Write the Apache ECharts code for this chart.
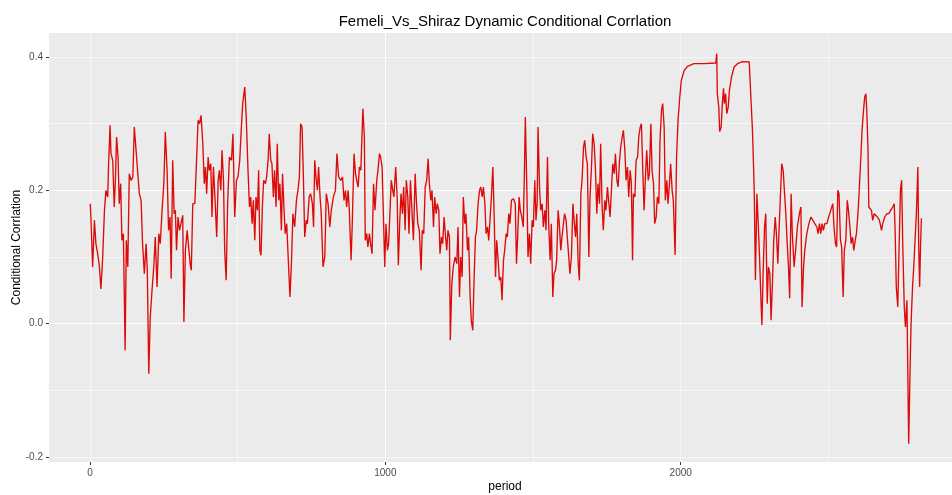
<!DOCTYPE html>
<html>
<head>
<meta charset="utf-8">
<script src="https://cdn.jsdelivr.net/npm/echarts@6/dist/echarts.min.js"></script>
<style>
html,body{margin:0;padding:0;background:#fff;}
#chart{width:952px;height:495px;}
</style>
</head>
<body>
<div id="chart"></div>
<script>
// ---- data ----
const titleText = 'Femeli_Vs_Shiraz Dynamic Conditional Corrlation';
const xName = 'period';
const yName = 'Conditional Corrlation';
const xTicks = [0, 1000, 2000];
const yTicks = [-0.2, 0.0, 0.2, 0.4];

const periodA = [1,3,9,15,20,26,32,37,43,49,54,60,63,68,71,77,82,86,90,95,99,104,108,113,119,123,128,133,139,145,150,156,161,167,173,178,184,190,194,199,204,210,216,221,227,233,238,244,250,255,261,266,271,275,280,285,289,293,298,303,308,314,318,323,329,334,339,343,348,355,361,366,371,376,382,387,391,395,400,404,409,413,418,423,429,434,438,443,447,452,456,461,466,472,479];
const corrA = [0.18,0.16,0.085,0.155,0.12,0.105,0.085,0.052,0.10,0.17,0.20,0.19,0.24,0.2975,0.255,0.245,0.175,0.215,0.28,0.25,0.18,0.21,0.125,0.135,-0.04,0.125,0.085,0.225,0.215,0.22,0.295,0.26,0.26,0.195,0.185,0.12,0.075,0.12,0.08,-0.075,0.01,0.05,0.085,0.13,0.055,0.135,0.12,0.17,0.21,0.2875,0.23,0.14,0.16,0.0675,0.245,0.165,0.17,0.11,0.16,0.14,0.15,0.1625,0.0025,0.11,0.14,0.14,0.09,0.08,0.18,0.18,0.18,0.305,0.30,0.3125,0.27,0.21,0.235,0.195,0.25,0.23,0.24,0.16,0.235,0.19,0.13,0.215,0.23,0.20,0.26,0.215,0.11,0.065,0.18,0.25,0.245];

const periodB = [484,490,496,501,507,512,517,524,529,535,540,544,549,553,558,562,567,571,575,579,584,588,594,598,603,607,612,616,621,625,630,634,639,643,648,652,657,661,666,672,677,682,687,693,699,704,709,713,718,722,727,732,736,742,747,753,757,761,765,770,774,779,783,789,795,800,806,812,817,824,831,836,842,849,855,860,865,869,874,878,884,888,894,899,903,908,912,917,921,924,929,932,937,941,946,950,955,960];
const corrB = [0.285,0.16,0.215,0.22,0.245,0.29,0.33,0.355,0.31,0.23,0.175,0.19,0.15,0.185,0.125,0.19,0.17,0.23,0.11,0.1025,0.18,0.215,0.21,0.22,0.245,0.285,0.245,0.24,0.19,0.23,0.175,0.27,0.185,0.21,0.14,0.225,0.17,0.135,0.15,0.15,0.04,0.09,0.165,0.145,0.185,0.20,0.22,0.30,0.295,0.23,0.13,0.155,0.15,0.19,0.195,0.18,0.145,0.245,0.22,0.20,0.235,0.19,0.165,0.085,0.10,0.195,0.18,0.145,0.17,0.19,0.20,0.255,0.22,0.215,0.22,0.185,0.20,0.175,0.20,0.17,0.095,0.15,0.255,0.225,0.215,0.205,0.235,0.23,0.23,0.3225,0.28,0.125,0.135,0.115,0.135,0.12,0.105,0.21];

const periodC = [962,965,971,975,980,984,989,993,998,1002,1007,1011,1016,1020,1025,1029,1035,1040,1044,1049,1053,1058,1062,1067,1071,1076,1080,1085,1089,1095,1101,1105,1110,1115,1121,1125,1130,1135,1140,1145,1149,1154,1158,1163,1167,1172,1176,1181,1185,1190,1194,1199,1203,1208,1212,1217,1220,1225,1230,1236,1242,1246,1251,1255,1260,1264,1269,1273,1278,1282,1287,1291,1296,1300,1305,1309,1314,1319,1323,1328,1332,1337,1341,1346,1350,1355,1359,1364,1368,1373,1377,1382,1386,1391,1395,1400,1404,1409,1413,1418,1422,1427,1434,1440];
const corrC = [0.21,0.17,0.215,0.23,0.255,0.25,0.235,0.17,0.085,0.15,0.11,0.12,0.17,0.215,0.20,0.19,0.235,0.19,0.0875,0.155,0.195,0.165,0.205,0.14,0.215,0.19,0.135,0.215,0.18,0.125,0.225,0.185,0.15,0.14,0.08,0.14,0.135,0.205,0.215,0.2475,0.21,0.185,0.20,0.145,0.19,0.165,0.18,0.17,0.105,0.13,0.12,0.16,0.135,0.11,0.14,0.13,-0.025,0.06,0.085,0.10,0.09,0.145,0.04,0.10,0.07,0.19,0.15,0.165,0.11,0.13,0.04,0.005,-0.01,0.06,0.13,0.14,0.18,0.20,0.205,0.19,0.205,0.18,0.135,0.145,0.125,0.16,0.19,0.235,0.17,0.07,0.125,0.095,0.065,0.07,0.035,0.095,0.11,0.135,0.13,0.165,0.15,0.185,0.1875,0.18];

const periodD = [1444,1448,1453,1457,1462,1467,1471,1474,1479,1483,1488,1492,1497,1501,1506,1510,1514,1517,1522,1526,1531,1535,1540,1544,1549,1553,1558,1562,1567,1571,1576,1580,1585,1589,1594,1598,1603,1607,1612,1616,1621,1625,1630,1635,1639,1644,1648,1653,1657,1662,1666,1671,1675,1680,1684,1689,1693,1698,1702,1707,1711,1716,1720,1725,1729,1734,1738,1743,1747,1752,1757,1761,1766,1770,1775,1779,1784,1788,1793,1797,1802,1806,1811,1815,1820,1824,1829,1833,1837,1840,1845,1849,1854,1858,1863,1867,1872,1876,1881,1885,1890,1894,1899,1903,1908,1912,1917,1921];
const corrD = [0.09,0.13,0.19,0.17,0.16,0.145,0.23,0.31,0.205,0.10,0.135,0.09,0.155,0.145,0.215,0.155,0.18,0.295,0.205,0.17,0.18,0.145,0.17,0.14,0.25,0.15,0.095,0.15,0.04,0.075,0.08,0.095,0.17,0.15,0.11,0.13,0.15,0.165,0.155,0.13,0.10,0.075,0.10,0.18,0.155,0.13,0.165,0.09,0.065,0.195,0.215,0.265,0.275,0.25,0.24,0.10,0.19,0.235,0.285,0.27,0.235,0.165,0.21,0.18,0.27,0.175,0.14,0.185,0.17,0.205,0.18,0.16,0.205,0.24,0.225,0.255,0.215,0.205,0.245,0.265,0.28,0.29,0.26,0.215,0.235,0.19,0.23,0.21,0.095,0.195,0.19,0.245,0.25,0.28,0.295,0.30,0.225,0.17,0.225,0.26,0.215,0.225,0.30,0.23,0.21,0.15,0.16,0.19];

const periodE = [1926,1930,1935,1939,1944,1948,1953,1957,1962,1966,1971,1975,1981,1986,1991,1997,2002,2012,2023,2045,2079,2119,2122,2124,2129,2132,2137,2141,2145,2148,2152,2156,2161,2165,2172,2181,2192,2209,2232,2237,2243,2249,2253,2258,2262,2267,2271,2275,2279,2284,2288,2293,2297,2302,2306,2311,2315,2320,2324,2329,2333,2338,2342,2347,2351,2356,2360,2365,2369,2374,2378,2384,2390,2395,2402];
const corrE = [0.18,0.275,0.32,0.33,0.295,0.185,0.215,0.18,0.21,0.24,0.20,0.185,0.103,0.25,0.305,0.34,0.365,0.38,0.386,0.39,0.39,0.391,0.405,0.345,0.325,0.288,0.295,0.33,0.353,0.33,0.345,0.315,0.325,0.35,0.37,0.385,0.39,0.393,0.3925,0.39,0.29,0.20,0.0655,0.195,0.155,0.10,0.045,-0.002,0.075,0.145,0.165,0.03,0.085,0.075,0.005,0.065,0.125,0.16,0.135,0.09,0.14,0.14,0.24,0.23,0.20,0.165,0.125,0.085,0.038,0.195,0.135,0.085,0.115,0.145,0.165];

const periodF = [2407,2411,2416,2420,2427,2434,2441,2447,2454,2461,2465,2470,2474,2479,2483,2488,2495,2501,2508,2515,2519,2524,2528,2532,2536,2541,2545,2550,2554,2559,2564,2568,2573,2577,2582,2586,2591,2595,2601,2605,2610,2614,2619,2623,2627,2630,2634,2637,2641,2646,2650,2655,2660,2666,2673,2680,2684,2691,2698,2705,2711,2718,2723,2726,2730,2735,2740,2744,2748,2752,2757,2761,2766,2769,2772,2777,2780,2785,2789,2794,2798,2803,2806,2809,2812,2815];
const corrF = [0.175,0.025,0.085,0.11,0.135,0.15,0.16,0.16,0.15,0.145,0.135,0.15,0.135,0.15,0.14,0.15,0.15,0.16,0.17,0.18,0.145,0.12,0.115,0.20,0.195,0.125,0.115,0.04,0.11,0.125,0.185,0.17,0.145,0.12,0.13,0.11,0.125,0.135,0.17,0.205,0.25,0.29,0.32,0.34,0.345,0.32,0.265,0.175,0.173,0.17,0.155,0.165,0.163,0.16,0.155,0.14,0.15,0.16,0.165,0.165,0.17,0.175,0.18,0.14,0.055,0.025,0.125,0.20,0.215,0.115,0.025,-0.005,0.035,-0.075,-0.18,-0.06,0.0,0.055,0.085,0.13,0.165,0.235,0.115,0.055,0.115,0.158];

// ---- build ----
const periods = [].concat(periodA, periodB, periodC, periodD, periodE, periodF);
const corr = [].concat(corrA, corrB, corrC, corrD, corrE, corrF);
const n = Math.min(periods.length, corr.length);
const seriesData = [];
for (let i = 0; i < n; i++) seriesData.push([periods[i], corr[i]]);

// ggplot-style expanded ranges (panel is cut at the right edge of the picture)
const xMin = -138.8, xMax = 2918.6;
const yMin = -0.2075, yMax = 0.436;

const FONT = '"Liberation Sans", Arial, sans-serif';
const chart = echarts.init(document.getElementById('chart'), null, {renderer: 'canvas'});

const majorLine = {show: true, showMinLine: false, showMaxLine: false, lineStyle: {color: '#ffffff', width: 1.1}};
const minorLine = {show: true, showMinLine: false, showMaxLine: false, lineStyle: {color: '#ffffff', width: 0.55}};

chart.setOption({
  animation: false,
  backgroundColor: '#ffffff',
  title: {
    text: titleText,
    left: 500,
    top: 9,
    textAlign: 'center',
    textStyle: {fontFamily: FONT, fontSize: 15, fontWeight: 'normal', color: '#000000'}
  },
  grid: {
    left: 49, right: 0, top: 33, bottom: 33,
    show: true, backgroundColor: '#EBEBEB', borderWidth: 0,
    containLabel: false,
    outerBoundsMode: 'none'
  },
  xAxis: [
    {
      type: 'value', min: xMin, max: xMax, splitNumber: 3, position: 'bottom',
      name: xName, nameLocation: 'middle', nameGap: 19, nameMoveOverlap: false,
      nameTextStyle: {fontFamily: FONT, fontSize: 12, color: '#000000', padding: [0, 0, 0, 9]},
      axisLine: {show: false, onZero: false},
      axisTick: {show: true, length: 3, customValues: xTicks, lineStyle: {color: '#333333', width: 1}},
      axisLabel: {show: true, customValues: xTicks, margin: 6, fontFamily: FONT, fontSize: 10, color: '#4d4d4d',
        formatter: v => String(Math.round(v))},
      splitLine: majorLine,
      z: 2
    },
    {
      type: 'value', min: xMin, max: xMax, splitNumber: 6, position: 'bottom',
      axisLine: {show: false, onZero: false}, axisTick: {show: false}, axisLabel: {show: false},
      splitLine: minorLine,
      z: 1
    }
  ],
  yAxis: [
    {
      type: 'value', min: yMin, max: yMax, splitNumber: 3, position: 'left',
      name: yName, nameLocation: 'middle', nameGap: 26, nameRotate: 90, nameMoveOverlap: false,
      nameTextStyle: {fontFamily: FONT, fontSize: 12, color: '#000000'},
      axisLine: {show: false, onZero: false},
      axisTick: {show: true, length: 3, customValues: yTicks, lineStyle: {color: '#333333', width: 1}},
      axisLabel: {show: true, customValues: yTicks, margin: 6, fontFamily: FONT, fontSize: 10, color: '#4d4d4d',
        formatter: v => v.toFixed(1)},
      splitLine: majorLine,
      z: 2
    },
    {
      type: 'value', min: yMin, max: yMax, splitNumber: 6, position: 'left',
      axisLine: {show: false, onZero: false}, axisTick: {show: false}, axisLabel: {show: false},
      splitLine: minorLine,
      z: 1
    }
  ],
  series: [{
    type: 'line',
    xAxisIndex: 0, yAxisIndex: 0,
    data: seriesData,
    showSymbol: false,
    symbol: 'none',
    lineStyle: {color: '#dd0a0a', width: 1.35},
    itemStyle: {color: '#dd0a0a'},
    z: 5
  }]
});
</script>
</body>
</html>
